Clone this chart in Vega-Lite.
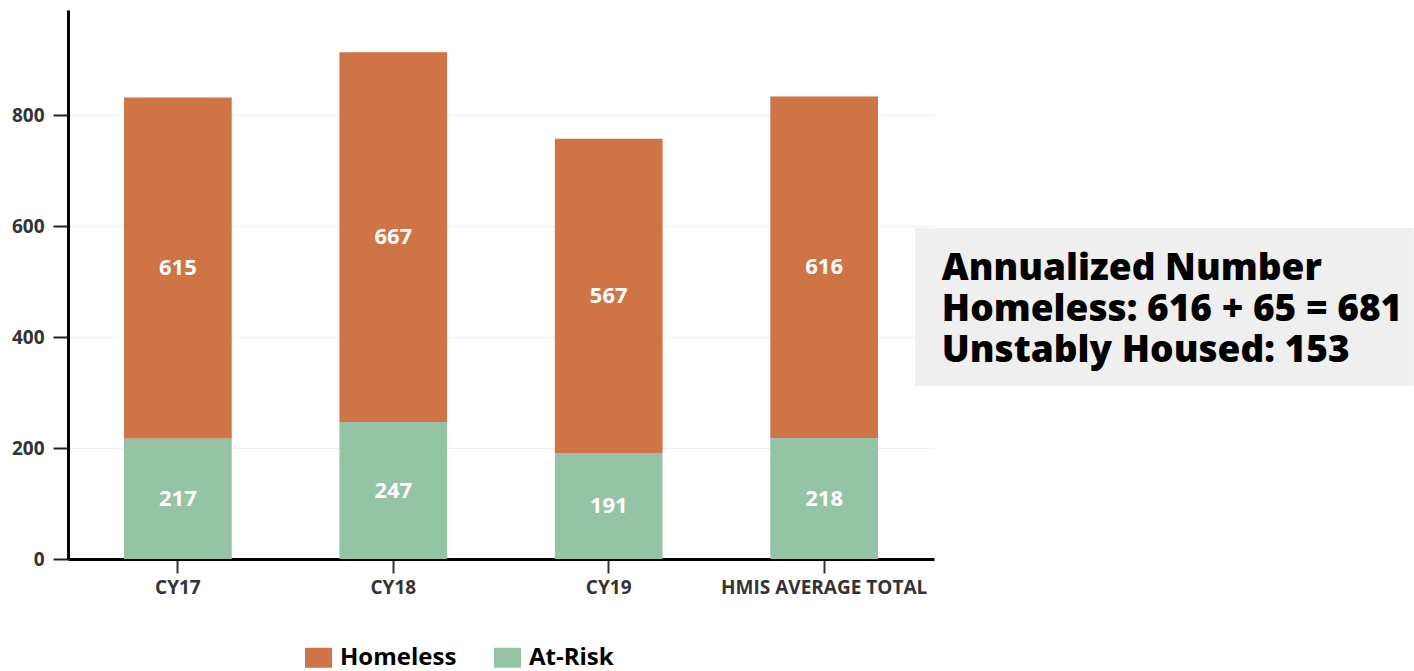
{
  "$schema": "https://vega.github.io/schema/vega-lite/v6.json",
  "width": 866,
  "height": 549,
  "autosize": {"type": "none"},
  "padding": {"left": 68, "top": 10, "right": 480, "bottom": 112},
  "background": "white",
  "config": {"view": {"stroke": null}, "font": "Open Sans"},
  "datasets": {
    "counts": [
      {"category": "CY17", "series": "Homeless", "count": 615},
      {"category": "CY17", "series": "At-Risk", "count": 217},
      {"category": "CY18", "series": "Homeless", "count": 667},
      {"category": "CY18", "series": "At-Risk", "count": 247},
      {"category": "CY19", "series": "Homeless", "count": 567},
      {"category": "CY19", "series": "At-Risk", "count": 191},
      {"category": "HMIS AVERAGE TOTAL", "series": "Homeless", "count": 616},
      {"category": "HMIS AVERAGE TOTAL", "series": "At-Risk", "count": 218}
    ],
    "note": [
      {"lines": ["Annualized Number", "Homeless: 616 + 65 = 681", "Unstably Housed: 153"]}
    ]
  },
  "layer": [
    {
      "layer": [
        {
          "data": {"name": "counts"},
          "mark": {"type": "bar"},
          "encoding": {
            "x": {
              "field": "category", "type": "nominal",
              "sort": ["CY17", "CY18", "CY19", "HMIS AVERAGE TOTAL"],
              "scale": {"paddingInner": 0.5, "paddingOuter": 0.26},
              "axis": {
                "title": null, "labelAngle": 0, "domainColor": "black", "domainWidth": 3,
                "tickColor": "#333", "tickWidth": 2, "tickSize": 14,
                "labelFont": "Open Sans", "labelFontSize": 19, "labelFontWeight": "bold",
                "labelColor": "#333", "labelPadding": 5, "labelLimit": 0, "grid": false
              }
            },
            "y": {
              "field": "count", "type": "quantitative", "stack": "zero",
              "scale": {"domain": [0, 990], "nice": false},
              "axis": {
                "title": null, "values": [0, 200, 400, 600, 800],
                "domainColor": "black", "domainWidth": 3,
                "tickColor": "#222", "tickWidth": 2, "tickSize": 15,
                "labelFont": "Open Sans", "labelFontSize": 19, "labelFontWeight": "bold",
                "labelColor": "#333", "labelPadding": 9,
                "grid": true, "gridColor": "#f0f0f0", "gridWidth": 1
              }
            },
            "color": {
              "field": "series", "type": "nominal",
              "scale": {"domain": ["Homeless", "At-Risk"], "range": ["#CF7446", "#94C3A6"]},
              "legend": {
                "title": null, "orient": "none", "legendX": 237, "legendY": 634,
                "direction": "horizontal",
                "symbolType": "M-1,-0.74H1V0.74H-1Z", "symbolSize": 729, "symbolStrokeWidth": 0,
                "symbolOpacity": 1,
                "labelFont": "Open Sans", "labelFontSize": 24, "labelFontWeight": "bold",
                "labelColor": "black", "labelOffset": 8, "columnPadding": 37
              }
            },
            "order": {"field": "series", "sort": "ascending"}
          }
        },
        {
          "data": {"name": "counts"},
          "transform": [
            {"stack": "count", "groupby": ["category"], "sort": [{"field": "series", "order": "ascending"}], "as": ["lo", "hi"]},
            {"calculate": "(datum.lo + datum.hi) / 2", "as": "mid"}
          ],
          "mark": {"type": "text", "color": "white", "fontSize": 22, "fontWeight": "bold", "font": "Open Sans", "baseline": "middle"},
          "encoding": {
            "x": {"field": "category", "type": "nominal", "sort": ["CY17", "CY18", "CY19", "HMIS AVERAGE TOTAL"]},
            "y": {"field": "mid", "type": "quantitative", "title": null},
            "text": {"field": "count", "type": "quantitative"}
          }
        }
      ]
    },
    {
      "layer": [
        {
          "data": {"name": "note"},
          "mark": {"type": "rect", "color": "#efefef"},
          "encoding": {
            "x": {"datum": 0.978, "type": "quantitative", "scale": {"domain": [0, 1]}, "axis": null},
            "x2": {"datum": 1.554},
            "y": {"datum": 312, "type": "quantitative", "title": null},
            "y2": {"datum": 597}
          }
        },
        {
          "data": {"name": "note"},
          "mark": {"type": "text", "align": "left", "baseline": "alphabetic", "lineHeight": 41, "fontSize": 37, "fontWeight": 800, "font": "Open Sans", "color": "black"},
          "encoding": {
            "x": {"datum": 1.009, "type": "quantitative"},
            "y": {"datum": 503, "type": "quantitative", "title": null},
            "text": {"field": "lines"}
          }
        }
      ]
    }
  ],
  "resolve": {"scale": {"x": "independent"}}
}
